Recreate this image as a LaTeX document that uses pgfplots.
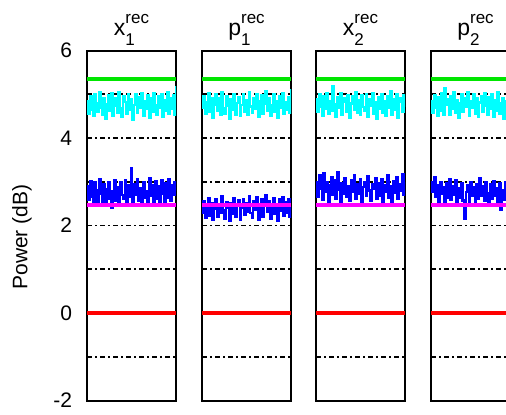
\documentclass[border=0pt]{standalone}
\usepackage{pgfplots}
\usepackage{pgfplotstable}
\pgfplotsset{compat=1.18}
\usepackage{fontspec}
\setmainfont{Liberation Sans}

\definecolor{lgreen}{RGB}{0,230,0}
\definecolor{tcyan}{RGB}{0,255,255}
\definecolor{tblue}{RGB}{0,0,255}
\definecolor{tmagenta}{RGB}{255,0,255}
\definecolor{tred}{RGB}{255,0,0}

% Recorded powers per quadrature: c = upper (cyan) trace, b = lower (blue) trace
\pgfplotstableread{
c b
4.85 2.90
4.55 2.58
4.95 3.02
4.65 2.66
4.50 2.50
5.00 2.98
4.80 2.80
4.60 2.55
5.05 3.06
4.70 2.72
4.52 2.52
4.92 2.94
4.45 2.48
4.78 2.82
4.98 3.00
4.62 2.62
5.02 2.40
4.50 2.78
4.74 3.04
4.90 2.57
4.58 2.88
5.04 2.50
4.68 2.99
4.48 2.70
4.96 2.60
4.82 3.03
4.55 2.54
5.00 2.92
4.64 2.66
4.88 3.30
4.42 2.51
4.76 2.95
4.99 2.71
4.57 3.05
4.93 2.56
4.70 2.86
5.03 2.49
4.51 3.00
4.84 2.64
4.66 2.79
4.97 2.53
4.47 3.08
4.90 2.68
4.60 2.93
5.02 2.50
4.75 3.02
4.53 2.61
4.95 2.90
4.69 2.55
5.00 3.04
4.49 2.73
4.86 2.49
4.62 2.97
5.04 2.63
4.56 3.06
4.91 2.57
4.67 2.91
4.98 2.70
4.52 2.99
5.20 2.80
}\xone

\pgfplotstableread{
c b
4.70 2.28
4.95 2.55
4.55 2.17
4.82 2.44
5.02 2.62
4.60 2.22
4.90 2.50
4.47 2.12
4.77 2.38
5.00 2.60
4.62 2.19
4.92 2.48
4.52 2.30
5.05 2.66
4.68 2.35
4.56 2.15
4.96 2.54
4.74 2.40
4.44 2.10
4.88 2.50
4.64 2.27
5.01 2.63
4.54 2.20
4.80 2.45
4.94 2.58
4.50 2.13
4.76 2.41
4.99 2.61
4.61 2.24
4.86 2.52
4.53 2.32
5.04 2.68
4.72 2.29
4.57 2.18
4.91 2.56
4.66 2.36
5.00 2.64
4.48 2.14
4.83 2.47
4.97 2.59
4.56 2.21
4.78 2.50
5.06 2.70
4.63 2.31
4.90 2.55
4.51 2.16
4.74 2.42
5.00 2.63
4.59 2.26
4.85 2.49
4.46 2.11
4.95 2.60
4.69 2.34
5.03 2.65
4.55 2.22
4.81 2.53
4.64 2.30
4.93 2.61
4.58 2.19
5.12 2.44
}\pone

\pgfplotstableread{
c b
4.88 3.00
4.60 2.65
5.00 3.15
4.72 2.84
4.50 2.58
4.96 3.20
4.66 2.76
5.03 2.98
4.56 2.55
4.85 2.92
4.63 3.10
5.18 2.70
4.78 3.04
4.48 2.60
4.94 3.22
4.68 2.82
5.02 2.52
4.54 2.96
4.82 2.73
4.90 3.08
4.59 2.66
4.98 2.90
4.46 2.56
4.79 3.03
4.95 2.78
4.65 3.14
5.05 2.62
4.57 2.95
4.86 2.72
4.52 3.06
4.97 2.50
4.71 2.88
4.62 3.00
5.01 2.67
4.49 3.12
4.89 2.80
4.74 2.57
5.03 2.94
4.55 2.83
4.81 3.09
4.43 2.60
4.93 2.97
4.67 2.69
5.00 3.05
4.58 2.54
4.84 2.91
4.50 2.77
4.96 3.16
4.70 2.64
5.06 2.89
4.53 2.53
4.88 3.02
4.64 2.74
5.00 3.10
4.47 2.61
4.83 2.95
4.92 2.80
4.60 3.18
4.98 2.70
4.72 2.99
}\xtwo

\pgfplotstableread{
c b
4.84 3.00
4.58 2.78
4.97 3.10
4.70 2.66
4.50 2.93
4.93 2.55
4.63 2.99
5.02 2.72
4.54 2.88
5.14 2.51
4.75 2.96
4.89 2.64
4.52 3.06
4.95 2.59
4.67 2.90
5.04 2.70
4.57 3.03
4.86 2.53
4.46 2.86
4.79 2.63
4.99 2.97
4.61 2.57
4.91 2.15
4.71 2.76
5.05 2.92
4.51 2.54
4.85 3.00
4.68 2.69
5.01 2.87
4.55 2.50
4.90 2.95
4.48 2.62
4.81 3.08
4.96 2.67
4.60 2.89
5.03 2.56
4.73 2.98
4.53 2.73
4.94 2.52
4.66 2.94
5.00 2.61
4.49 3.02
4.87 2.68
4.62 2.85
5.04 2.49
4.56 2.96
4.80 2.35
4.92 2.80
4.45 2.58
4.85 2.99
4.69 2.65
5.02 2.88
4.58 2.53
4.95 3.04
4.52 2.71
4.89 2.91
4.65 2.55
4.99 2.97
4.57 2.74
4.83 2.87
}\ptwo

\pgfplotsset{
  panel/.style={
    scale only axis,
    width=44.5pt, height=175pt,
    anchor=south west,
    xmin=1, xmax=60, ymin=-2, ymax=6,
    xtick=\empty,
    ytick={-2,-1,...,6},
    yticklabels={},
    major tick length=0pt,
    ymajorgrids,
    major grid style={black, line width=0.8pt, dash pattern=on 2.5pt off 1.5pt on 1pt off 1.5pt},
    axis line style={black, line width=1pt},
    clip=true,
  },
  trace/.style={line width=1.2pt, mark=none, const plot},
  level/.style={line width=2pt, mark=none},
}

\newcommand{\quadlabel}[2]{#1\rlap{\raisebox{-5pt}{\fontsize{8.5}{9}\selectfont #2}}\raisebox{6pt}{\fontsize{8.5}{9}\selectfont rec}}

\newcommand{\panelplots}[1]{%
  \addplot[trace, tcyan] table[x expr=\coordindex+1, y=c] {#1};
  \addplot[trace, tblue] table[x expr=\coordindex+1, y=b] {#1};
  \addplot[level, lgreen] coordinates {(1,5.34) (60,5.34)};
  \addplot[level, tmagenta] coordinates {(1,2.46) (60,2.46)};
  \addplot[level, tred] coordinates {(1,0) (60,0)};
}

\begin{document}
\begin{tikzpicture}
\useasboundingbox (0,0) rectangle (253pt,207pt);
\clip (0,0) rectangle (253pt,207pt);

\begin{axis}[panel, at={(43.5pt,6.75pt)},
  yticklabels={-2,,0,,2,,4,,6},
  yticklabel shift=4pt,
  /pgf/number format/assume math mode=true,
  yticklabel style={font=\fontsize{10.5}{12}\selectfont}]
\panelplots{\xone}
\end{axis}

\begin{axis}[panel, at={(101pt,6.75pt)}]
\panelplots{\pone}
\end{axis}

\begin{axis}[panel, at={(158pt,6.75pt)}]
\panelplots{\xtwo}
\end{axis}

\begin{axis}[panel, at={(215.5pt,6.75pt)}]
\panelplots{\ptwo}
\end{axis}

\node[rotate=90, font=\fontsize{10.5}{12}\selectfont] at (11pt,88.5pt) {Power (dB)};

\begin{scope}[every node/.style={anchor=base, font=\fontsize{11.5}{13}\selectfont, inner sep=0pt}]
\node at (65.75pt,189.5pt) {\quadlabel{x}{1}};
\node at (123.25pt,189.5pt) {\quadlabel{p}{1}};
\node at (180.25pt,189.5pt) {\quadlabel{x}{2}};
\node at (237.75pt,189.5pt) {\quadlabel{p}{2}};
\end{scope}
\end{tikzpicture}
\end{document}
